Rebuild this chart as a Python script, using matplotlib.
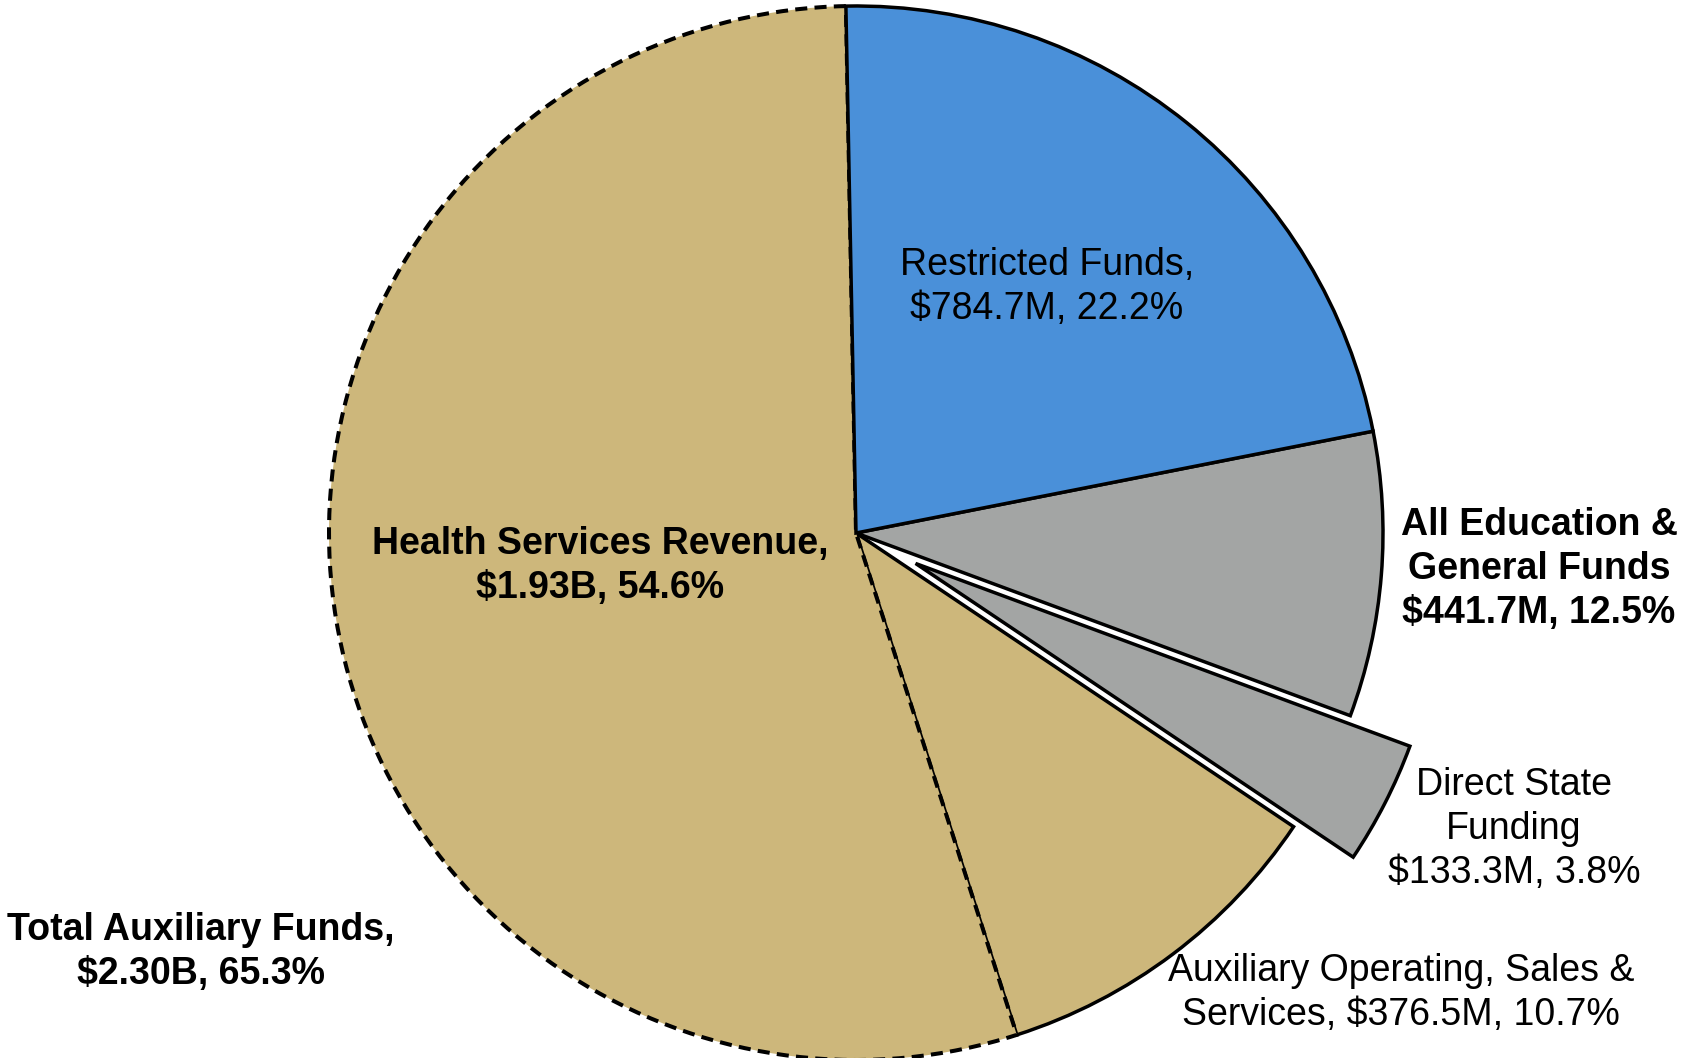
import matplotlib
matplotlib.use("Agg")
import matplotlib.pyplot as plt

plt.rcParams["font.family"] = ["Liberation Sans", "DejaVu Sans"]

# fund amounts in $M, clockwise from the top
segments = ["Restricted Funds", "Other Education & General", "Direct State Funding",
            "Auxiliary Operating, Sales & Services", "Health Services Revenue"]
amounts = [784.7, 441.7 - 133.3, 133.3, 376.5, 1930.0]
colors = ["#4A90D9", "#A3A5A4", "#A3A5A4", "#CDB77B", "#CDB77B"]
explode = [0, 0, 0.127, 0, 0]

labels = [
    ("Restricted Funds,\n$784.7M, 22.2%", "normal"),
    ("Health Services Revenue,\n$1.93B, 54.6%", "bold"),
    ("All Education &\nGeneral Funds\n$441.7M, 12.5%", "bold"),
    ("Direct State\nFunding\n$133.3M, 3.8%", "normal"),
    ("Auxiliary Operating, Sales &\nServices, $376.5M, 10.7%", "normal"),
    ("Total Auxiliary Funds,\n$2.30B, 65.3%", "bold"),
]
label_xy = [(1047, 287), (600, 566), (1539, 569), (1514, 829), (1401, 993), (201, 952)]

W, H = 1696, 1058
cx, cy, R = 856, 533, 527   # pie centre and radius in pixels

fig = plt.figure(figsize=(W / 100, H / 100), dpi=100)
ax = fig.add_axes([0, 0, 1, 1])

wedges, _ = ax.pie(amounts, colors=colors, explode=explode, startangle=91.1,
                   counterclock=False, radius=1,
                   wedgeprops=dict(edgecolor="black", linewidth=2.5))

# pie() resets the limits, so set them afterwards
ax.set_xlim(-cx / R, (W - cx) / R)
ax.set_ylim(-(H - cy) / R, cy / R)
ax.set_aspect("equal")
ax.axis("off")

# health services wedge: dashed outline only
wedges[4].set_linewidth(2.9)
wedges[4].set_linestyle((0, (3.0, 1.8)))
wedges[0].set_zorder(5)
for w in wedges[1:4]:
    w.set_zorder(3)
wedges[4].set_zorder(4)

for (txt, weight), (x, y) in zip(labels, label_xy):
    fig.text(x / W, 1 - y / H, txt, ha="center", va="center", multialignment="center",
             fontsize=27, fontweight=weight, color="black", linespacing=1.3)

fig.savefig("out.png", dpi=100)
